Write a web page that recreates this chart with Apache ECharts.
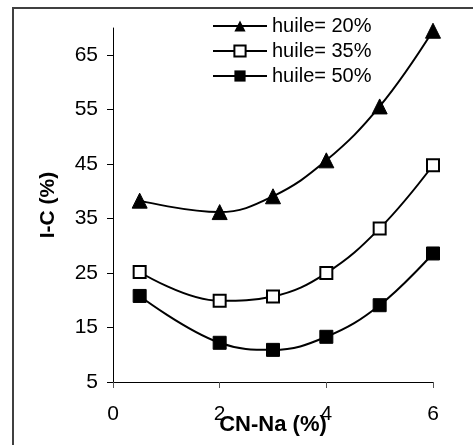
<!DOCTYPE html>
<html>
<head>
<meta charset="utf-8">
<script src="https://cdn.jsdelivr.net/npm/echarts@6/dist/echarts.min.js"></script>
<style>
  html, body { margin: 0; padding: 0; background: #fff; }
  #chart { position: absolute; left: 0; top: 0; width: 473px; height: 445px; }
  #frame {
    position: absolute; left: 12px; top: 7px; width: 470px; height: 450px;
    border-left: 2px solid #404040; border-top: 2px solid #404040;
    pointer-events: none;
  }
</style>
</head>
<body>
<div id="chart"></div>
<div id="frame"></div>
<script>
// CN-Na (%) values on the x axis
const cnNa = [0.5, 2, 3, 4, 5, 6]
const seriesNames = ['huile= 20%', 'huile= 35%', 'huile= 50%']
const huile20 = [38.3, 36.2, 39.1, 45.7, 55.6, 69.5]
const huile35 = [25.2, 19.9, 20.7, 25.0, 33.2, 44.8]
const huile50 = [20.8, 12.2, 10.9, 13.3, 19.1, 28.6]
const yTicks = [5, 15, 25, 35, 45, 55, 65]
const xTicks = [0, 2, 4, 6]

const pairs = ys => cnNa.map((x, i) => [x, ys[i]])
const font = 'Liberation Sans, Arial, sans-serif'

const chart = echarts.init(document.getElementById('chart'))

const option = {
  animation: false,
  grid: {left: 113, right: 40, top: 28, bottom: 63, containLabel: false, outerBoundsMode: 'none'},
  legend: {
    orient: 'vertical',
    left: 207,
    top: 11,
    itemWidth: 54,
    itemHeight: 14,
    itemGap: 5,
    textStyle: {fontFamily: font, fontSize: 20, color: '#000', padding: [0, 0, 0, 0]},
    data: seriesNames
  },
  xAxis: {
    type: 'value',
    min: 0,
    max: 6,
    interval: 2,
    name: 'CN-Na (%)',
    nameLocation: 'middle',
    nameGap: 32,
    nameMoveOverlap: false,
    nameTextStyle: {fontFamily: font, fontSize: 22, fontWeight: 'bold', color: '#000'},
    axisLine: {lineStyle: {color: '#000', width: 1}},
    axisTick: {length: 6, lineStyle: {color: '#555'}, customValues: xTicks},
    axisLabel: {fontFamily: font, fontSize: 21, color: '#000', margin: 22, customValues: xTicks},
    splitLine: {show: false}
  },
  yAxis: {
    type: 'value',
    min: 5,
    max: 70,
    name: 'I-C (%)',
    nameLocation: 'middle',
    nameGap: 54,
    nameMoveOverlap: false,
    nameRotate: 90,
    nameTextStyle: {fontFamily: font, fontSize: 21, fontWeight: 'bold', color: '#000'},
    axisLine: {show: true, lineStyle: {color: '#000', width: 1}},
    axisTick: {show: true, length: 6, lineStyle: {color: '#000'}, customValues: yTicks},
    axisLabel: {fontFamily: font, fontSize: 21, color: '#000', margin: 15, customValues: yTicks},
    splitLine: {show: false}
  },
  series: [
    {
      name: seriesNames[0],
      type: 'line',
      smooth: 0.4,
      data: pairs(huile20),
      symbol: 'triangle',
      symbolSize: 15,
      lineStyle: {color: '#000', width: 2},
      itemStyle: {color: '#000', borderColor: '#000'}
    },
    {
      name: seriesNames[1],
      type: 'line',
      smooth: 0.4,
      data: pairs(huile35),
      symbol: 'rect',
      symbolSize: 12,
      lineStyle: {color: '#000', width: 2},
      itemStyle: {color: '#fff', borderColor: '#000', borderWidth: 2}
    },
    {
      name: seriesNames[2],
      type: 'line',
      smooth: 0.4,
      data: pairs(huile50),
      symbol: 'rect',
      symbolSize: 13,
      lineStyle: {color: '#000', width: 2},
      itemStyle: {color: '#000', borderColor: '#000'}
    }
  ]
}
chart.setOption(option)
</script>
</body>
</html>
